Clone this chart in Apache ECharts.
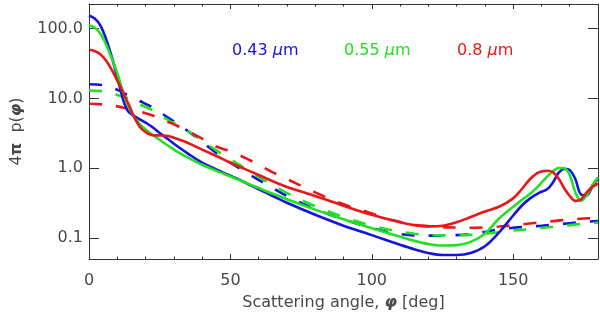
<!DOCTYPE html>
<html><head><meta charset="utf-8">
<script src="https://cdn.jsdelivr.net/npm/echarts@6/dist/echarts.min.js"></script>
<style>html,body{margin:0;padding:0;background:#fff}#c{width:600px;height:316px}</style>
</head><body><div id="c"></div>
<script>
// Scattering angles (deg) sampled for the solid curves
const solidAngles = [0,2,4,6,8,10,11,12,13,14,16,18,20,22,25,28,31,35,40,45,50,55,60,65,70,80,90,100,110,115,120,125,130,135,140,145,150,153,156,159,162,164,166,168,170,172,174,176,178,180];
const blueSolid  = [155,140,112,72,40,20,14,9.8,7.6,6.4,5.6,5.0,4.5,4.0,3.2,2.6,2.1,1.62,1.2,0.96,0.78,0.63,0.5,0.4,0.32,0.215,0.15,0.11,0.08,0.069,0.061,0.057,0.057,0.061,0.076,0.12,0.21,0.29,0.37,0.44,0.5,0.62,0.85,0.98,0.94,0.7,0.42,0.41,0.55,0.72];
const greenSolid = [112,104,85,60,38,23,17,12.5,9.5,7.6,5.4,4.3,3.6,3.1,2.55,2.1,1.75,1.42,1.12,0.92,0.76,0.63,0.52,0.43,0.36,0.255,0.185,0.138,0.104,0.091,0.082,0.078,0.079,0.088,0.115,0.19,0.28,0.35,0.43,0.56,0.76,0.9,1.01,1.0,0.8,0.45,0.34,0.41,0.57,0.74];
const redSolid   = [50,48,43,35,26,18,15,12.5,10,8.3,5.4,3.9,3.3,3.0,2.95,2.9,2.65,2.3,1.85,1.5,1.2,0.98,0.8,0.65,0.54,0.4,0.29,0.215,0.168,0.153,0.147,0.15,0.168,0.2,0.24,0.28,0.37,0.5,0.7,0.87,0.92,0.88,0.72,0.52,0.4,0.34,0.36,0.45,0.54,0.6];

// Scattering angles (deg) sampled for the dashed curves
const dashAngles = [0,5,10,14,18,21,24,28,31,35,40,45,50,55,60,65,70,80,90,100,105,110,115,120,125,130,135,140,145,150,155,160,165,170,175,180];
const blueDash  = [16,15.5,13.3,11,9.2,8.0,6.8,5.3,4.4,3.4,2.4,1.65,1.2,0.9,0.68,0.52,0.4,0.26,0.185,0.14,0.123,0.114,0.109,0.108,0.108,0.11,0.114,0.122,0.133,0.14,0.145,0.15,0.156,0.163,0.17,0.175];
const greenDash = [13,12.7,11.2,10,8.2,7.3,6.2,4.9,4.2,3.4,2.5,1.8,1.35,1.0,0.75,0.57,0.44,0.285,0.2,0.15,0.135,0.123,0.115,0.11,0.109,0.109,0.111,0.115,0.121,0.128,0.133,0.139,0.146,0.153,0.16,0.166];
const redDash   = [8.4,8.2,7.7,7.1,6.5,6.0,5.4,4.6,4.1,3.4,2.65,2.05,1.75,1.42,1.12,0.87,0.7,0.45,0.305,0.225,0.19,0.17,0.155,0.148,0.143,0.141,0.14,0.142,0.146,0.152,0.16,0.168,0.176,0.184,0.19,0.195];

// Tick labels
const yTickValues = [0.1, 1, 10, 100];
const yTickLabels = ['0.1', '1.0', '10.0', '100.0'];
const legendLabels = ['0.43', '0.55', '0.8'];

const BLUE = '#1414e0', GREEN = '#22e022', RED = '#e81818';
const FONT = 'DejaVu Sans';
const AX = '#333';
const TXT = '#484848';

function pairs(xs, ys) { return xs.map((x, i) => [x, ys[i]]); }

function line(name, xs, ys, color, dashed) {
  return {
    name, type: 'line', data: pairs(xs, ys), smooth: 0.35, showSymbol: false, symbol: 'none',
    xAxisIndex: 0, yAxisIndex: 0, clip: true,
    lineStyle: { color, width: 2.6, type: dashed ? [13, 14] : 'solid', cap: 'butt' },
    z: dashed ? 2 : 3
  };
}

const chart = echarts.init(document.getElementById('c'), null, { renderer: 'canvas' });

const xBase = {
  type: 'value', min: 0, max: 180, interval: 50,
  axisLine: { show: true, onZero: false, lineStyle: { color: AX, width: 1 } },
  axisTick: { show: true, inside: true, length: 5, lineStyle: { color: AX, width: 1 } },
  minorTick: { show: true, splitNumber: 5, length: 2.5, lineStyle: { color: AX, width: 1 } },
  splitLine: { show: false }, minorSplitLine: { show: false }
};
const yBase = {
  type: 'log', logBase: 10, min: 0.05, max: 226,
  axisLine: { show: true, onZero: false, lineStyle: { color: AX, width: 1 } },
  axisTick: { show: true, inside: true, length: 10, lineStyle: { color: AX, width: 1 } },
  splitLine: { show: false }, minorTick: { show: false }
};

function yLabel(v) {
  const i = yTickValues.findIndex(t => Math.abs(v / t - 1) < 1e-6);
  return i >= 0 ? yTickLabels[i] : '';
}

chart.setOption({
  animation: false,
  backgroundColor: '#fff',
  grid: { left: 89, right: 2, top: 4, bottom: 54, containLabel: false },
  xAxis: [
    Object.assign({}, xBase, {
      position: 'bottom',
      axisLabel: { show: true, showMaxLabel: false, fontFamily: FONT, fontSize: 16, color: TXT, margin: 14 },
      name: 'Scattering angle, {p|φ} [deg]', nameLocation: 'middle', nameGap: 36,
      nameTextStyle: { fontFamily: FONT, fontSize: 16, color: TXT,
        rich: { p: { fontFamily: FONT, fontSize: 16, color: TXT, fontStyle: 'italic', fontWeight: 'bold' } } }
    }),
    Object.assign({}, xBase, { position: 'top', axisLabel: { show: false } })
  ],
  yAxis: [
    Object.assign({}, yBase, {
      position: 'left',
      axisLabel: { show: true, formatter: yLabel, fontFamily: FONT, fontSize: 16, color: TXT, margin: 6 },
      name: '4{b|π}  p({p|φ})', nameLocation: 'middle', nameGap: 64, nameRotate: 90,
      nameTextStyle: { fontFamily: FONT, fontSize: 16, color: TXT,
        rich: { b: { fontFamily: FONT, fontSize: 16, color: TXT, fontWeight: 'bold' },
                p: { fontFamily: FONT, fontSize: 16, color: TXT, fontStyle: 'italic', fontWeight: 'bold' } } }
    }),
    Object.assign({}, yBase, { position: 'right', axisLabel: { show: false } })
  ],
  graphic: [
    { type: 'text', left: 232, top: 43, style: { text: legendLabels[0] + ' {m|μ}m', fill: BLUE, font: '16px "DejaVu Sans"',
      rich: { m: { fill: BLUE, fontStyle: 'italic', fontFamily: FONT, fontSize: 16 } } } },
    { type: 'text', left: 344, top: 43, style: { text: legendLabels[1] + ' {m|μ}m', fill: GREEN, font: '16px "DejaVu Sans"',
      rich: { m: { fill: GREEN, fontStyle: 'italic', fontFamily: FONT, fontSize: 16 } } } },
    { type: 'text', left: 457, top: 43, style: { text: legendLabels[2] + ' {m|μ}m', fill: RED, font: '16px "DejaVu Sans"',
      rich: { m: { fill: RED, fontStyle: 'italic', fontFamily: FONT, fontSize: 16 } } } }
  ],
  series: [
    line('0.43 dashed', dashAngles, blueDash, BLUE, true),
    line('0.55 dashed', dashAngles, greenDash, GREEN, true),
    line('0.8 dashed', dashAngles, redDash, RED, true),
    line('0.43 solid', solidAngles, blueSolid, BLUE, false),
    line('0.55 solid', solidAngles, greenSolid, GREEN, false),
    line('0.8 solid', solidAngles, redSolid, RED, false)
  ]
});
</script>
</body></html>
